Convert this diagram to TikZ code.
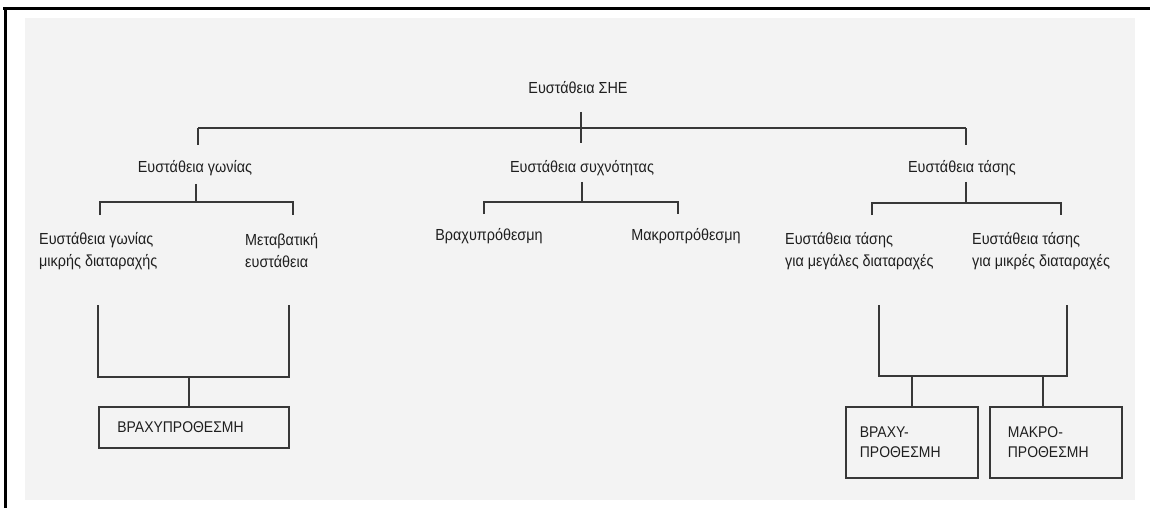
\documentclass[tikz,border=0pt]{standalone}
\usepackage{fontspec}
\setmainfont{Liberation Sans}[FakeStretch=0.9]
\definecolor{paper}{RGB}{243,243,243}
\definecolor{ink}{RGB}{55,55,55}
\begin{document}
\begin{tikzpicture}[x=1pt,y=-1pt,
  lbl/.style={inner sep=0pt, font=\fontsize{16}{22}\selectfont, align=left, text=black!88},
  conn/.style={draw=ink, line width=1.6pt},
  boxnode/.style={draw=ink, line width=1.8pt, font=\fontsize{15.5}{20}\selectfont, align=left, text=black!88, inner ysep=0pt},
  frame/.style={draw=black, line width=3pt}
]
\useasboundingbox (0,0) rectangle (1150,508);
\fill[paper] (25,18) rectangle (1135,500);
\draw[frame] (3,9) -- (1150,9);
\draw[frame] (5,9) -- (5,508);

% nodes
\node[lbl] (root)  at (578,88)  {Ευστάθεια ΣΗΕ};
\node[lbl] (angle) at (195,168) {Ευστάθεια γωνίας};
\node[lbl] (freq)  at (582,168) {Ευστάθεια συχνότητας};
\node[lbl] (volt)  at (962,168) {Ευστάθεια τάσης};

\node[lbl, anchor=west] (a1) at (39,251)  {Ευστάθεια γωνίας\\μικρής διαταραχής};
\node[lbl, anchor=west] (a2) at (245,251) {Μεταβατική\\ευστάθεια};
\node[lbl] (f1) at (489,236) {Βραχυπρόθεσμη};
\node[lbl] (f2) at (686,236) {Μακροπρόθεσμη};
\node[lbl, anchor=west] (v1) at (785,251) {Ευστάθεια τάσης\\για μεγάλες διαταραχές};
\node[lbl, anchor=west] (v2) at (972,251) {Ευστάθεια τάσης\\για μικρές διαταραχές};

\node[boxnode, anchor=north west, minimum height=41pt, text width=153pt, inner xsep=18.5pt] (b1) at (98,406) {ΒΡΑΧΥΠΡΟΘΕΣΜΗ};
\node[boxnode, anchor=north west, minimum height=71pt, text width=104pt, inner xsep=14pt] (b2) at (845,406) {ΒΡΑΧΥ-\\ΠΡΟΘΕΣΜΗ};
\node[boxnode, anchor=north west, minimum height=71pt, text width=96pt, inner xsep=18pt] (b3) at (989,406) {ΜΑΚΡΟ-\\ΠΡΟΘΕΣΜΗ};

% level 0 -> 1
\coordinate (r0) at (581,112);
\coordinate (r1) at (581,143);
\draw[conn] (r0) -- (r1);
\coordinate (hL) at (198,128);
\coordinate (hR) at (966,128);
\draw[conn] (hL) -- (hR);
\draw[conn] (hL) -- ++(0,17);
\draw[conn] (hR) -- ++(0,17);

% angle group
\coordinate (ag) at (196,202);
\draw[conn] (angle.south -| ag) ++(0,8) -- (ag);
\draw[conn] (100,215) |- (ag) -| (293,215);
% freq group
\coordinate (fg) at (582,202);
\draw[conn] (freq.south -| fg) ++(0,6) -- (fg);
\draw[conn] (484,214) |- (fg) -| (678,214);
% volt group
\coordinate (vg) at (966,203);
\draw[conn] (volt.south -| vg) ++(0,6) -- (vg);
\draw[conn] (872,215) |- (vg) -| (1061,215);

% bottom left
\coordinate (bl) at (189,377);
\draw[conn] (98,305) |- (bl) -| (289,305);
\draw[conn] (bl) -- (b1.north -| bl);
% bottom right
\coordinate (brL) at (912,376);
\coordinate (brR) at (1043,376);
\draw[conn] (879,305) |- (brL) -- (brR) -| (1067,305);
\draw[conn] (brL) -- (b2.north -| brL);
\draw[conn] (brR) -- (b3.north -| brR);
\end{tikzpicture}
\end{document}
